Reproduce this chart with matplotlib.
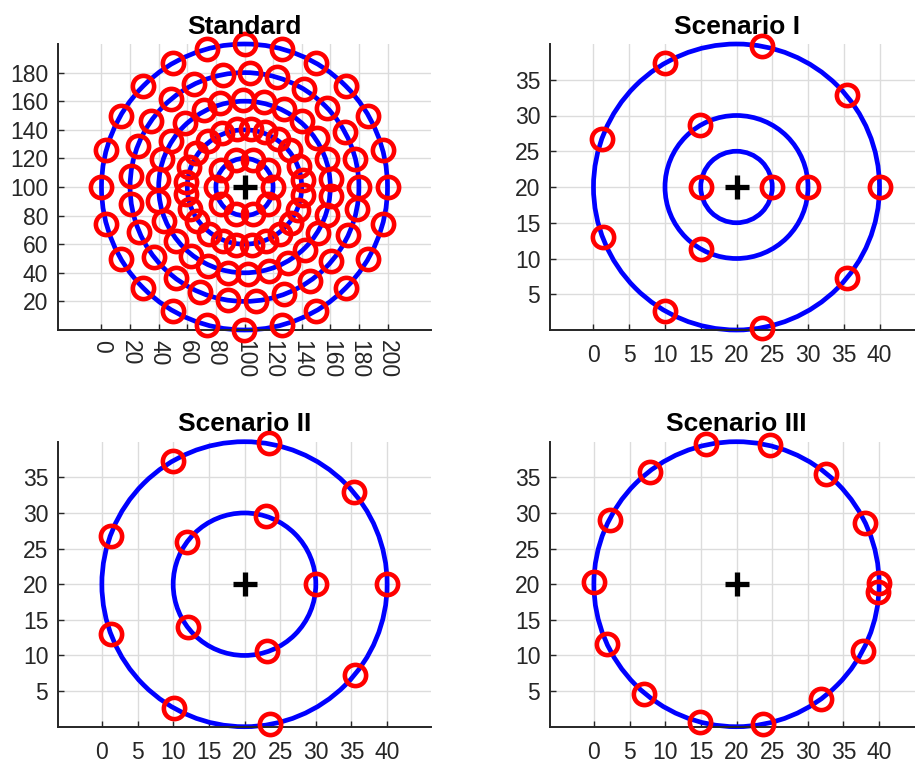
import numpy as np
import matplotlib
matplotlib.use('Agg')
import matplotlib.pyplot as plt
from matplotlib.patches import Circle

plt.rcParams['font.family'] = ['Liberation Sans', 'DejaVu Sans']

# ---------------- data ----------------
# Standard: centre, blue rings and red points (ring radius + angles in degrees)
std_center = (100, 100)
std_ring_radii = [100, 80, 60, 40, 20]
std_pts_r100 = 100
std_pts_a100 = [0, 15, 30, 45, 60, 75, 90, 105, 120, 135, 150, 165, 180, 195,
                210, 225, 240, 255, 270, 285, 300, 315, 330, 345]
std_pts_r80 = 80
std_pts_a80 = [0, 14.4, 29, 44, 58.5, 73.5, 87, 101, 116, 130, 145, 159, 174.4,
               188.6, 203, 218, 233, 247, 261.6, 275.8, 290.4, 305, 319.4, 335, 348.7]
std_pts_r60 = 61
std_pts_a60 = [5, 19, 34, 49, 63, 77, 91, 106, 118, 133, 148, 161, 175, 189, 203,
               218, 232, 245, 259, 272, 286, 300, 314, 328, 341, 354]
std_pts_r40 = 41
std_pts_a40 = [7, 21, 39, 55, 70, 84, 97, 113, 128, 145, 160, 175, 187, 202, 216,
               233, 248, 262, 277, 292, 307, 322, 337, 352]
std_pts_r20 = 20
std_pts_a20 = [1, 36, 72, 108, 144, 180, 216, 252, 288, 324]
std_xticks = list(range(0, 201, 20))
std_yticks = list(range(20, 181, 20))

# Scenarios
sc_center = (20, 20)
sc1_rings = [20, 10, 5]
sc1_x = [40, 35.4, 23.5, 9.94, 1.18, 1.27, 10.04, 23.58, 35.4, 30.0, 14.94, 15.04, 25.0, 15.0]
sc1_y = [20, 32.8, 39.68, 37.35, 26.69, 13.03, 2.61, 0.32, 7.28, 20.0, 28.7, 11.26, 20.0, 20.0]

sc2_rings = [20, 10]
sc2_x = [40, 35.33, 23.44, 10.01, 1.3, 1.3, 10.07, 23.58, 35.43, 29.97, 23.08, 11.93, 12.03, 23.22]
sc2_y = [20, 32.88, 39.76, 37.27, 26.74, 13.07, 2.68, 0.34, 7.22, 20.0, 29.55, 25.86, 14.0, 10.63]

sc3_rings = [20]
sc3_x = [15.78, 24.65, 7.84, 32.59, 2.2, 38.05, 0.0, 40.0, 39.9, 1.78, 37.68, 7.1, 31.85, 14.94, 23.72]
sc3_y = [39.62, 39.48, 35.73, 35.4, 28.99, 28.61, 20.32, 20.1, 18.92, 11.67, 10.63, 4.65, 3.95, 0.66, 0.34]
sc_xticks = list(range(0, 41, 5))
sc_yticks = list(range(5, 36, 5))

titles = ['Standard', 'Scenario I', 'Scenario II', 'Scenario III']

# ---------------- style ----------------
BLUE = '#0000ff'
RED = '#ff0000'
AXC = '#262626'
RING_LW = 3.4
MS = 15.3
MEW = 3.3

fig = plt.figure(figsize=(9.15, 7.65), dpi=100)

W = 373 / 915
H_top = 286 / 765
H_bot = 285 / 765
L_left = 58 / 915
L_right = 550 / 915
B_top = (765 - 330) / 765
B_bot = (765 - 726.7) / 765

ax_std = fig.add_axes([L_left, B_top, W, H_top])
ax_s1 = fig.add_axes([L_right, B_top, W, H_top])
ax_s2 = fig.add_axes([L_left, B_bot, W, H_bot])
ax_s3 = fig.add_axes([L_right, B_bot, W, H_bot])


def style_axes(ax, title, xticks, yticks, xpad, rot=0):
    for s in ['top', 'right']:
        ax.spines[s].set_visible(False)
    for s in ['left', 'bottom']:
        ax.spines[s].set_color(AXC)
        ax.spines[s].set_linewidth(1.4)
    ax.set_xticks(xticks)
    ax.set_yticks(yticks)
    ax.tick_params(direction='in', length=4, width=1.0, colors=AXC, labelsize=16.5)
    ax.tick_params(axis='x', pad=xpad, labelrotation=rot)
    ax.tick_params(axis='y', pad=7)
    ax.grid(True, color='#dcdcdc', lw=1.0)
    ax.set_axisbelow(True)
    ax.set_title(title, fontsize=19, fontweight='bold', pad=7.5, color='black')


def draw_rings(ax, center, radii):
    for r in radii:
        ax.add_patch(Circle(center, r, fill=False, ec=BLUE, lw=RING_LW, zorder=2, clip_on=False))


def draw_points(ax, xs, ys):
    ax.plot(xs, ys, 'o', mfc='none', mec=RED, ms=MS, mew=MEW, zorder=3, clip_on=False, ls='none')


def draw_center(ax, center):
    ax.plot([center[0]], [center[1]], '+', color='black', ms=17, mew=3.8, zorder=4, clip_on=False)


# Standard
draw_rings(ax_std, std_center, std_ring_radii)
for r, angs in [(std_pts_r100, std_pts_a100), (std_pts_r80, std_pts_a80),
                (std_pts_r60, std_pts_a60), (std_pts_r40, std_pts_a40),
                (std_pts_r20, std_pts_a20)]:
    a = np.radians(angs)
    draw_points(ax_std, std_center[0] + r * np.cos(a), std_center[1] + r * np.sin(a))
draw_center(ax_std, std_center)
ax_std.set_xlim(-30.4, 230.4)
ax_std.set_ylim(0, 200)
style_axes(ax_std, titles[0], std_xticks, std_yticks, xpad=7, rot=-90)

# Scenario I
draw_rings(ax_s1, sc_center, sc1_rings)
draw_points(ax_s1, sc1_x, sc1_y)
draw_center(ax_s1, sc_center)
ax_s1.set_xlim(-6.08, 46.08)
ax_s1.set_ylim(0, 40)
style_axes(ax_s1, titles[1], sc_xticks, sc_yticks, xpad=10)

# Scenario II
draw_rings(ax_s2, sc_center, sc2_rings)
draw_points(ax_s2, sc2_x, sc2_y)
draw_center(ax_s2, sc_center)
ax_s2.set_xlim(-6.15, 46.15)
ax_s2.set_ylim(0, 40)
style_axes(ax_s2, titles[2], sc_xticks, sc_yticks, xpad=10)

# Scenario III
draw_rings(ax_s3, sc_center, sc3_rings)
draw_points(ax_s3, sc3_x, sc3_y)
draw_center(ax_s3, sc_center)
ax_s3.set_xlim(-6.15, 46.15)
ax_s3.set_ylim(0, 40)
style_axes(ax_s3, titles[3], sc_xticks, sc_yticks, xpad=10)

fig.savefig('out.png', dpi=100)
